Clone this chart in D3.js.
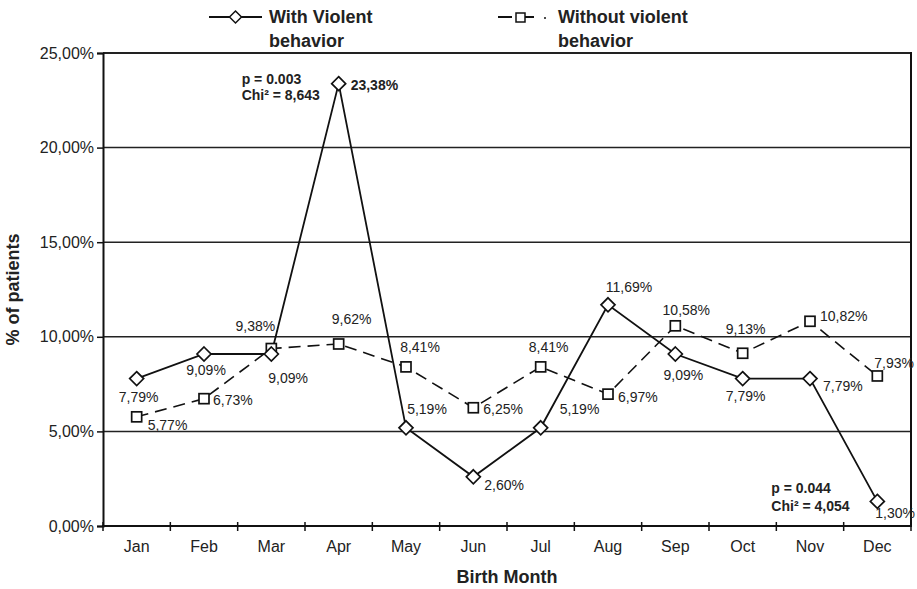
<!DOCTYPE html>
<html>
<head>
<meta charset="utf-8">
<script src="https://cdn.jsdelivr.net/npm/d3@7/dist/d3.min.js"></script>
<style>
  html, body { margin: 0; padding: 0; background: #fff; }
  svg { display: block; font-family: "Liberation Sans", Arial, Helvetica, sans-serif; }
</style>
</head>
<body>
<svg id="chart" width="917" height="589"></svg>
<script>
// Birth month distribution (% of patients)
const months = ["Jan","Feb","Mar","Apr","May","Jun","Jul","Aug","Sep","Oct","Nov","Dec"];
const withViolent = [7.79, 9.09, 9.09, 23.38, 5.19, 2.60, 5.19, 11.69, 9.09, 7.79, 7.79, 1.30];
const withoutViolent = [5.77, 6.73, 9.38, 9.62, 8.41, 6.25, 8.41, 6.97, 10.58, 9.13, 10.82, 7.93];
const yTicks = [0, 5, 10, 15, 20, 25];
const seriesNames = ["With Violent behavior", "Without violent behavior"];
const annotations = [
  { month: "Apr", lines: ["p = 0.003", "Chi\u00b2 = 8,643"] },
  { month: "Dec", lines: ["p = 0.044", "Chi\u00b2 = 4,054"] }
];

// Value-label placement (offset from the marker, text anchor)
const withLabelPos = [
  [2, 18, "middle"], [2, 16, "middle"], [-3, 24, "start"], [12, 1, "start"],
  [21, -19, "middle"], [11, 8, "start"], [19, -19, "start"], [21, -18, "middle"],
  [8, 21, "middle"], [3, 17, "middle"], [13, 7, "start"], [-2, 12, "start"]
];
const withoutLabelPos = [
  [11, 8, "start"], [9, 1, "start"], [-16, -22, "middle"], [13, -25, "middle"],
  [14, -20, "middle"], [10, 1, "start"], [8, -20, "middle"], [10, 3, "start"],
  [11, -16, "middle"], [3, -24, "middle"], [10, -5, "start"], [-3, -13, "start"]
];

const svg = d3.select("#chart");
const margin = { top: 53, right: 6, bottom: 63, left: 103 };
const W = 917, H = 589;
const x0 = margin.left, x1 = W - margin.right, y0 = H - margin.bottom, yTop = margin.top;

const x = d3.scaleBand().domain(months).range([x0, x1]).padding(0);
const y = d3.scaleLinear().domain([0, 25]).range([y0, yTop]);
const cx = m => x(m) + x.bandwidth() / 2;

const locale = d3.formatLocale({ decimal: ",", thousands: ".", grouping: [3], currency: ["", ""] });
const fmt2 = locale.format(".2f");
const pct = v => fmt2(v) + "%";

// Horizontal gridlines
svg.append("g")
  .selectAll("line")
  .data(yTicks.filter(t => t > 0))
  .join("line")
  .attr("x1", x0).attr("x2", x1)
  .attr("y1", d => y(d)).attr("y2", d => y(d))
  .attr("stroke", "#222").attr("stroke-width", d => d === 25 ? 2 : 1.5);

// Right frame line
svg.append("line")
  .attr("x1", x1).attr("x2", x1).attr("y1", yTop - 1).attr("y2", y0)
  .attr("stroke", "#111").attr("stroke-width", 2);

// Y axis
const yAxis = svg.append("g")
  .attr("transform", `translate(${x0},0)`)
  .call(d3.axisLeft(y).tickValues(yTicks).tickFormat(pct).tickSize(6).tickPadding(3));
yAxis.select(".domain").attr("stroke", "#111").attr("stroke-width", 2);
yAxis.selectAll(".tick line").attr("stroke", "#111").attr("stroke-width", 1.5);
yAxis.selectAll(".tick text").attr("font-size", 16).attr("fill", "#222")
  .attr("font-family", "Liberation Sans, Arial, sans-serif");

// X axis: labels at band centres, ticks at band boundaries
const xAxis = svg.append("g")
  .attr("transform", `translate(0,${y0})`)
  .call(d3.axisBottom(x).tickSize(0).tickPadding(15));
xAxis.select(".domain").remove();
xAxis.selectAll(".tick text").attr("font-size", 16).attr("fill", "#222")
  .attr("font-family", "Liberation Sans, Arial, sans-serif");
svg.append("line")
  .attr("x1", x0 - 1).attr("x2", x1 + 1).attr("y1", y0).attr("y2", y0)
  .attr("stroke", "#111").attr("stroke-width", 2);
svg.append("g")
  .selectAll("line")
  .data(months.map(m => x(m)).concat([x1]))
  .join("line")
  .attr("x1", d => d).attr("x2", d => d)
  .attr("y1", y0 - 4).attr("y2", y0 + 5)
  .attr("stroke", "#111").attr("stroke-width", 1.5);

// Axis titles
svg.append("text")
  .attr("transform", `translate(19,${(y0 + yTop) / 2}) rotate(-90)`)
  .attr("text-anchor", "middle")
  .attr("font-size", 18).attr("font-weight", "bold").attr("fill", "#222")
  .text("% of patients");
svg.append("text")
  .attr("x", (x0 + x1) / 2).attr("y", 583)
  .attr("text-anchor", "middle")
  .attr("font-size", 18).attr("font-weight", "bold").attr("fill", "#222")
  .text("Birth Month");

const line = d3.line().x((d, i) => cx(months[i])).y(d => y(d));

// Without violent behavior (dashed, squares)
svg.append("path")
  .datum(withoutViolent)
  .attr("d", line)
  .attr("fill", "none").attr("stroke", "#111").attr("stroke-width", 1.6)
  .attr("stroke-dasharray", "12,7");

// With violent behavior (solid, diamonds)
svg.append("path")
  .datum(withViolent)
  .attr("d", line)
  .attr("fill", "none").attr("stroke", "#111").attr("stroke-width", 1.8);

const sq = 10;
svg.append("g")
  .selectAll("rect")
  .data(withoutViolent)
  .join("rect")
  .attr("x", (d, i) => cx(months[i]) - sq / 2)
  .attr("y", d => y(d) - sq / 2)
  .attr("width", sq).attr("height", sq)
  .attr("fill", "#fff").attr("stroke", "#111").attr("stroke-width", 1.7);

const dm = 7;
const diamond = (px, py, r) => `M${px},${py - r}L${px + r},${py}L${px},${py + r}L${px - r},${py}Z`;
svg.append("g")
  .selectAll("path")
  .data(withViolent)
  .join("path")
  .attr("d", (d, i) => diamond(cx(months[i]), y(d), dm))
  .attr("fill", "#fff").attr("stroke", "#111").attr("stroke-width", 1.7);

// Value labels
function addLabels(values, pos, bold) {
  svg.append("g")
    .selectAll("text")
    .data(values)
    .join("text")
    .attr("x", (d, i) => cx(months[i]) + pos[i][0])
    .attr("y", (d, i) => y(d) + pos[i][1])
    .attr("dy", "0.35em")
    .attr("text-anchor", (d, i) => pos[i][2])
    .attr("font-size", 14)
    .attr("font-weight", (d, i) => bold(i) ? "bold" : "normal")
    .attr("fill", "#222")
    .text(d => fmt2(d) + "%");
}
addLabels(withViolent, withLabelPos, i => months[i] === "Apr");
addLabels(withoutViolent, withoutLabelPos, () => false);

// Chi-square annotations
const annPos = { Apr: [-97, 79, 16], Dec: [-106, 488, 18] };
annotations.forEach(a => {
  const p = annPos[a.month];
  const t = svg.append("text")
    .attr("x", cx(a.month) + p[0]).attr("y", p[1])
    .attr("font-size", 14).attr("font-weight", "bold").attr("fill", "#222");
  a.lines.forEach((l, k) => {
    t.append("tspan").attr("x", cx(a.month) + p[0]).attr("dy", k === 0 ? "0.35em" : p[2]).text(l);
  });
});

// Legend
const lg = svg.append("g");
// solid series
lg.append("line").attr("x1", 209).attr("x2", 262).attr("y1", 17).attr("y2", 17)
  .attr("stroke", "#111").attr("stroke-width", 2);
lg.append("path").attr("d", diamond(235.5, 17, 6))
  .attr("fill", "#fff").attr("stroke", "#111").attr("stroke-width", 1.5);
const l1 = seriesNames[0].split(" ");
lg.append("text").attr("x", 269).attr("y", 23)
  .attr("font-size", 18).attr("font-weight", "bold").attr("fill", "#222")
  .text(l1.slice(0, 2).join(" "));
lg.append("text").attr("x", 269).attr("y", 47)
  .attr("font-size", 18).attr("font-weight", "bold").attr("fill", "#222")
  .text(l1.slice(2).join(" "));
// dashed series
lg.append("line").attr("x1", 498).attr("x2", 536).attr("y1", 17).attr("y2", 17)
  .attr("stroke", "#111").attr("stroke-width", 2).attr("stroke-dasharray", "14,8");
lg.append("circle").attr("cx", 545).attr("cy", 18).attr("r", 1).attr("fill", "#111");
lg.append("rect").attr("x", 516).attr("y", 13).attr("width", 9).attr("height", 9)
  .attr("fill", "#fff").attr("stroke", "#111").attr("stroke-width", 1.5);
const l2 = seriesNames[1].split(" ");
lg.append("text").attr("x", 558).attr("y", 23)
  .attr("font-size", 18).attr("font-weight", "bold").attr("fill", "#222")
  .text(l2.slice(0, 2).join(" "));
lg.append("text").attr("x", 558).attr("y", 47)
  .attr("font-size", 18).attr("font-weight", "bold").attr("fill", "#222")
  .text(l2.slice(2).join(" "));
</script>
</body>
</html>
